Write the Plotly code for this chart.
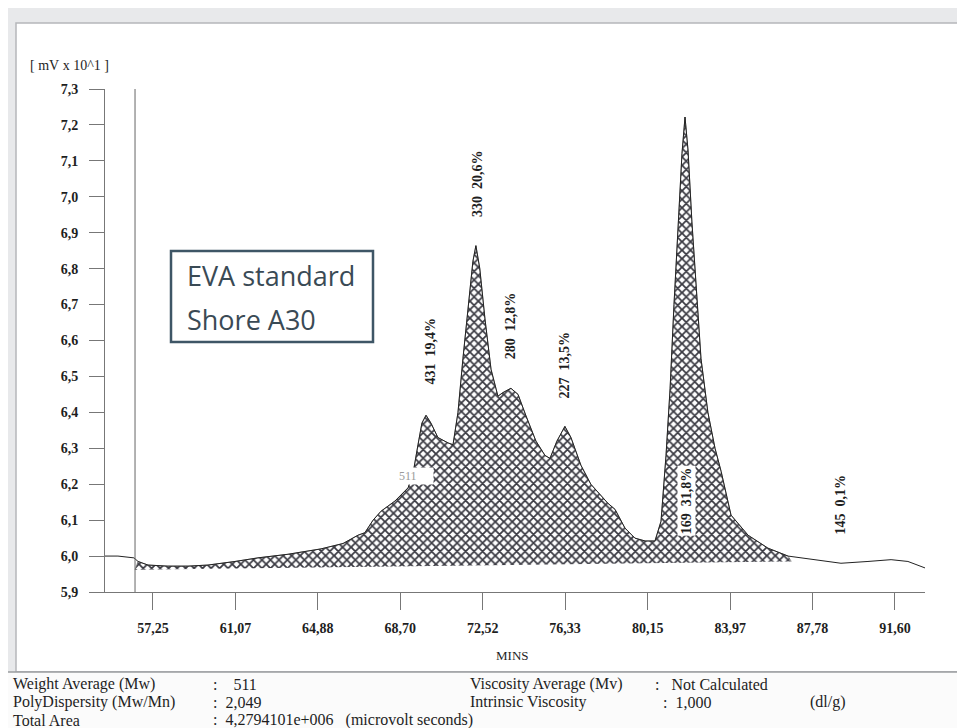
import plotly.graph_objects as go

# ---------------- data ----------------
time_min = [55.03, 55.63, 56.37, 56.56, 57.02, 57.94, 58.87, 59.80, 61.05, 62.11,
            63.50, 65.03, 66.05, 66.74, 67.06, 67.44, 67.81, 68.45, 69.06, 69.29,
            69.52, 69.70, 69.89, 70.12, 70.44, 70.91, 71.14, 71.37, 71.60, 71.83,
            72.06, 72.20, 72.38, 72.62, 72.90, 73.22, 73.45, 73.82, 74.15, 74.52,
            74.98, 75.40, 75.63, 75.95, 76.32, 76.60, 77.06, 77.52, 77.99, 78.31,
            78.64, 79.10, 79.56, 80.03, 80.49, 80.77, 81.00, 81.19, 81.37, 81.56,
            81.74, 81.88, 82.02, 82.20, 82.39, 82.62, 82.94, 83.27, 83.55, 84.01,
            84.80, 85.72, 86.65, 87.90, 89.10, 90.35, 91.42, 92.20, 92.99]
signal = [6.000, 6.000, 5.995, 5.985, 5.975, 5.972, 5.972, 5.975, 5.985, 5.995,
          6.005, 6.020, 6.035, 6.058, 6.065, 6.100, 6.125, 6.153, 6.190, 6.230,
          6.310, 6.370, 6.392, 6.370, 6.330, 6.315, 6.310, 6.400, 6.550, 6.680,
          6.820, 6.864, 6.800, 6.660, 6.520, 6.445, 6.455, 6.467, 6.450, 6.390,
          6.320, 6.280, 6.272, 6.320, 6.361, 6.330, 6.253, 6.200, 6.170, 6.147,
          6.130, 6.078, 6.050, 6.042, 6.042, 6.097, 6.280, 6.467, 6.700, 6.930,
          7.120, 7.222, 7.130, 6.930, 6.750, 6.550, 6.400, 6.300, 6.236, 6.114,
          6.058, 6.022, 6.000, 5.989, 5.980, 5.985, 5.990, 5.985, 5.967]

integration_start = 56.42
integration_end = 86.80
baseline_values = [5.962, 5.985]

x_tick_vals = [57.25, 61.07, 64.88, 68.70, 72.52, 76.33, 80.15, 83.97, 87.78, 91.60]
x_tick_text = ["57,25", "61,07", "64,88", "68,70", "72,52", "76,33", "80,15", "83,97", "87,78", "91,60"]
y_tick_vals = [5.9, 6.0, 6.1, 6.2, 6.3, 6.4, 6.5, 6.6, 6.7, 6.8, 6.9, 7.0, 7.1, 7.2, 7.3]
y_tick_text = ["5,9", "6,0", "6,1", "6,2", "6,3", "6,4", "6,5", "6,6", "6,7", "6,8", "6,9", "7,0", "7,1", "7,2", "7,3"]

peak_labels = ["431  19,4%", "330  20,6%", "280  12,8%", "227  13,5%", "169  31,8%", "145  0,1%"]
peak_label_x = [70.12, 72.30, 73.82, 76.32, 81.93, 89.06]
peak_label_y = [6.572, 7.036, 6.642, 6.533, 6.153, 6.144]
mw_label = "511"
mw_label_x = 69.40
mw_label_y = 6.222

footer_left_labels = ["Weight Average (Mw)", "PolyDispersity (Mw/Mn)", "Total Area"]
footer_left_values = [":    511", ":  2,049", ":  4,2794101e+006   (microvolt seconds)"]
footer_right_labels = ["Viscosity Average (Mv)", "Intrinsic Viscosity"]
footer_right_values = [":   Not Calculated", "  :  1,000"]
footer_unit = "(dl/g)"

# ---------------- layout geometry (pixels) ----------------
W, H = 965, 728
L, R, T, B = 97, 48, 81, 144
PW, PH = W - L - R, H - T - B


def px(xp):
    return (xp - L) / PW


def py(yp):
    return (H - B - yp) / PH


def keep_spaces(s):
    return s.replace(" ", "&nbsp;")


SERIF = "Liberation Serif"
INK = "#1e1e1e"

fig = go.Figure()

# integration baseline (invisible) + hatched area
in_x = [t for t in time_min if integration_start <= t <= integration_end]
in_y = [v for t, v in zip(time_min, signal) if integration_start <= t <= integration_end]
fig.add_trace(go.Scatter(x=[integration_start, integration_end], y=baseline_values,
                         mode="lines", line=dict(width=0, color="rgba(0,0,0,0)"),
                         hoverinfo="skip", showlegend=False))
fig.add_trace(go.Scatter(x=[integration_start] + in_x + [integration_end],
                         y=[baseline_values[0]] + in_y + [baseline_values[1]],
                         mode="lines", line=dict(width=0.6, color="#555"),
                         fill="tonexty", fillcolor="white",
                         fillpattern=dict(shape="x", size=6, solidity=0.5,
                                          fgcolor="#3a3a42", bgcolor="#ffffff", fgopacity=1),
                         hoverinfo="skip", showlegend=False))
# detector trace
fig.add_trace(go.Scatter(x=time_min, y=signal, mode="lines",
                         line=dict(color="#222", width=1), showlegend=False))

shapes = []
shapes.append(dict(type="rect", xref="paper", yref="paper", x0=px(8), x1=px(958), y0=py(664), y1=py(15),
                   fillcolor="white", line=dict(color="#b5b7ba", width=1.5), layer="below"))
shapes.append(dict(type="rect", xref="paper", yref="paper", x0=px(0), x1=px(965), y0=py(728), y1=py(664),
                   fillcolor="#fbfbfb", line=dict(width=0), layer="below"))
shapes.append(dict(type="line", xref="paper", yref="paper", x0=px(0), x1=px(965), y0=py(664), y1=py(664),
                   line=dict(color="#9a9c9f", width=1.5), layer="below"))
shapes.append(dict(type="line", xref="x", yref="y", x0=integration_start, x1=integration_start,
                   y0=5.9, y1=7.3, line=dict(color="#666", width=1)))
shapes.append(dict(type="rect", xref="paper", yref="paper", x0=px(163), x1=px(365), y0=py(334), y1=py(243),
                   fillcolor="white", line=dict(color="#3e5666", width=2.5)))

ann = []
ann.append(dict(xref="paper", yref="paper", x=px(20), y=py(57), text=keep_spaces("[ mV x 10^1 ]"),
                showarrow=False, xanchor="left", yanchor="middle",
                font=dict(family=SERIF, size=14, color=INK)))
ann.append(dict(xref="paper", yref="paper", x=px(504), y=py(647), text="MINS", showarrow=False,
                xanchor="center", yanchor="middle", font=dict(family=SERIF, size=13, color=INK)))
for txt, xx, yy in zip(peak_labels, peak_label_x, peak_label_y):
    white = txt.startswith("169")
    ann.append(dict(x=xx, y=yy, text=keep_spaces(txt), textangle=-90, showarrow=False,
                    font=dict(family=SERIF, size=14, color=INK, weight="bold"),
                    bgcolor="white" if white else None, borderpad=1))
ann.append(dict(x=mw_label_x, y=mw_label_y, text=mw_label + "&nbsp;" * 5, showarrow=False,
                font=dict(family=SERIF, size=12, color="#9a9a9a"), bgcolor="white", borderpad=1))
ann.append(dict(xref="paper", yref="paper", x=px(177), y=py(267), text="EVA standard", showarrow=False,
                xanchor="left", yanchor="middle", font=dict(family="Open Sans", size=27, color="#3a4a55")))
ann.append(dict(xref="paper", yref="paper", x=px(177), y=py(311), text="Shore A30", showarrow=False,
                xanchor="left", yanchor="middle", font=dict(family="Open Sans", size=27, color="#3a4a55")))

rows_y = [676, 694, 712]
FOOT = dict(family=SERIF, size=16, color=INK)
for lab, val, yy in zip(footer_left_labels, footer_left_values, rows_y):
    ann.append(dict(xref="paper", yref="paper", x=px(3), y=py(yy), text=lab, showarrow=False,
                    xanchor="left", yanchor="middle", font=FOOT))
    ann.append(dict(xref="paper", yref="paper", x=px(203), y=py(yy), text=keep_spaces(val), showarrow=False,
                    xanchor="left", yanchor="middle", font=FOOT))
for lab, val, yy in zip(footer_right_labels, footer_right_values, rows_y):
    ann.append(dict(xref="paper", yref="paper", x=px(460), y=py(yy), text=lab, showarrow=False,
                    xanchor="left", yanchor="middle", font=FOOT))
    ann.append(dict(xref="paper", yref="paper", x=px(645), y=py(yy), text=keep_spaces(val), showarrow=False,
                    xanchor="left", yanchor="middle", font=FOOT))
ann.append(dict(xref="paper", yref="paper", x=px(800), y=py(rows_y[1]), text=footer_unit, showarrow=False,
                xanchor="left", yanchor="middle", font=FOOT))

fig.update_layout(
    width=W, height=H, margin=dict(l=L, r=R, t=T, b=B, autoexpand=False),
    paper_bgcolor="#e8e9eb", plot_bgcolor="rgba(0,0,0,0)",
    showlegend=False, shapes=shapes, annotations=ann,
    xaxis=dict(range=[55.03, 92.99], tickvals=x_tick_vals, ticktext=x_tick_text,
               showgrid=False, zeroline=False, showline=True, linecolor="#777", linewidth=1,
               ticks="outside", ticklen=17, tickcolor="#777", tickwidth=1, ticklabelstandoff=6,
               tickfont=dict(family=SERIF, size=14, color=INK, weight="bold")),
    yaxis=dict(range=[5.9, 7.3], tickvals=y_tick_vals, ticktext=y_tick_text,
               showgrid=False, zeroline=False, showline=True, linecolor="#777", linewidth=1,
               ticks="outside", ticklen=15, tickcolor="#777", tickwidth=1, ticklabelstandoff=8,
               tickfont=dict(family=SERIF, size=14, color=INK, weight="bold")),
)

fig.write_html("out.html")
